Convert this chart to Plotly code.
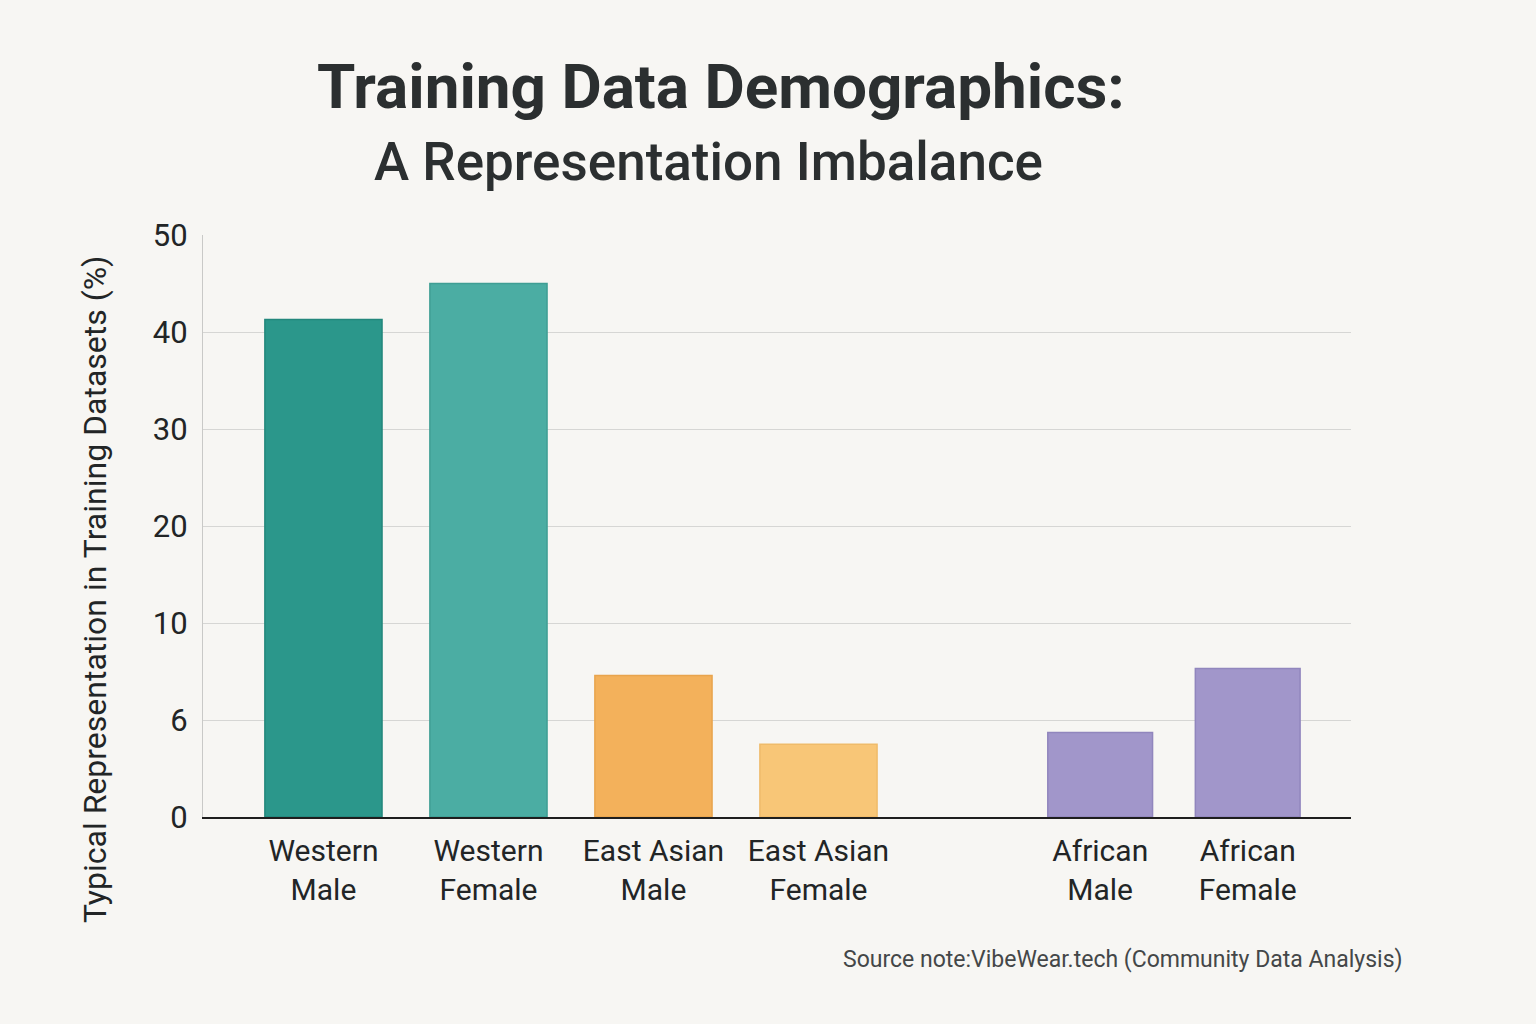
import plotly.graph_objects as go

# data
categories = ["Western<br>Male", "Western<br>Female", "East Asian<br>Male",
              "East Asian<br>Female", "African<br>Male", "African<br>Female"]
regions = ["Western", "Western", "East Asian", "East Asian", "African", "African"]
# bar heights in gridline units (one gridline step = 10)
values = [51.3, 55.0, 14.6, 7.5, 8.7, 15.3]
y_tick_labels = ["0", "6", "10", "20", "30", "40", "50"]

bar_colors = ["#2b978b", "#4badA3", "#f3b15b", "#f8c677", "#a196ca", "#a196ca"]
bar_edges = ["#23877c", "#3f9e94", "#e8a44d", "#efbb6a", "#9186bd", "#9186bd"]

BG = "#f7f6f3"
TEXT = "#222526"
FONT = "Roboto"

# African bars sit in a second panel, separated by a wider gap
left = [i for i, r in enumerate(regions) if r != "African"]
right = [i for i, r in enumerate(regions) if r == "African"]

fig = go.Figure()
for idx, xa, ya in [(left, "x", "y"), (right, "x2", "y2")]:
    fig.add_trace(go.Bar(
        x=[categories[i] for i in idx],
        y=[values[i] for i in idx],
        marker=dict(color=[bar_colors[i] for i in idx],
                    line=dict(color=[bar_edges[i] for i in idx], width=1.5)),
        xaxis=xa, yaxis=ya,
        hoverinfo="x+y",
        showlegend=False,
    ))

tickvals = [i * 10 for i in range(len(y_tick_labels))]

x_common = dict(
    type="category",
    showline=True, linecolor="#1e1e1e", linewidth=2,
    showgrid=False, ticks="",
    tickfont=dict(family=FONT, size=30, color=TEXT),
    ticklabelstandoff=6,
)
y_common = dict(
    range=[0, 60],
    tickvals=tickvals,
    showgrid=True, gridcolor="#d6d6d4", gridwidth=1.2,
    zeroline=False,
    domain=[0, 1],
)

fig.update_layout(
    width=1536, height=1024,
    paper_bgcolor=BG, plot_bgcolor=BG,
    margin=dict(l=203, r=185, t=235, b=207),
    bargap=0.29,
    xaxis=dict(**x_common, domain=[0, 0.608], range=[-0.73, 3.5], anchor="y"),
    xaxis2=dict(**x_common, domain=[0.608, 1], range=[-1.35, 1.70], anchor="y2"),
    yaxis=dict(**y_common, anchor="x", ticktext=y_tick_labels,
               showline=True, linecolor="#c9c9c7", linewidth=1.2,
               tickfont=dict(family=FONT, size=31, color=TEXT),
               ticklabelstandoff=8),
    yaxis2=dict(**y_common, anchor="x2", matches="y", showticklabels=False,
                showline=False),
    annotations=[
        dict(text="<b>Training Data Demographics:</b>", xref="paper", yref="paper",
             x=0.451, y=1.256, xanchor="center", yanchor="middle", showarrow=False,
             font=dict(family=FONT, size=62, color="#2b2f30")),
        dict(text="A Representation Imbalance", xref="paper", yref="paper",
             x=0.44, y=1.125, xanchor="center", yanchor="middle", showarrow=False,
             font=dict(family=FONT, size=53, color="#2b2f30", weight=500)),
        dict(text="Typical Representation in Training Datasets (%)",
             xref="paper", yref="paper", x=-0.094, y=0.39, textangle=-90,
             xanchor="center", yanchor="middle", showarrow=False,
             font=dict(family=FONT, size=32, color=TEXT)),
        dict(text="Source note:VibeWear.tech (Community Data Analysis)",
             xref="paper", yref="paper", x=1.047, y=-0.245,
             xanchor="right", yanchor="middle", showarrow=False,
             font=dict(family=FONT, size=23, color="#444748")),
    ],
)

# drop the default page margin so the figure fills the window
fig.write_html("out.html", config={"displayModeBar": False}, post_script=(
    "document.body.style.margin='0';"
    "document.body.style.background='#f7f6f3';"))
